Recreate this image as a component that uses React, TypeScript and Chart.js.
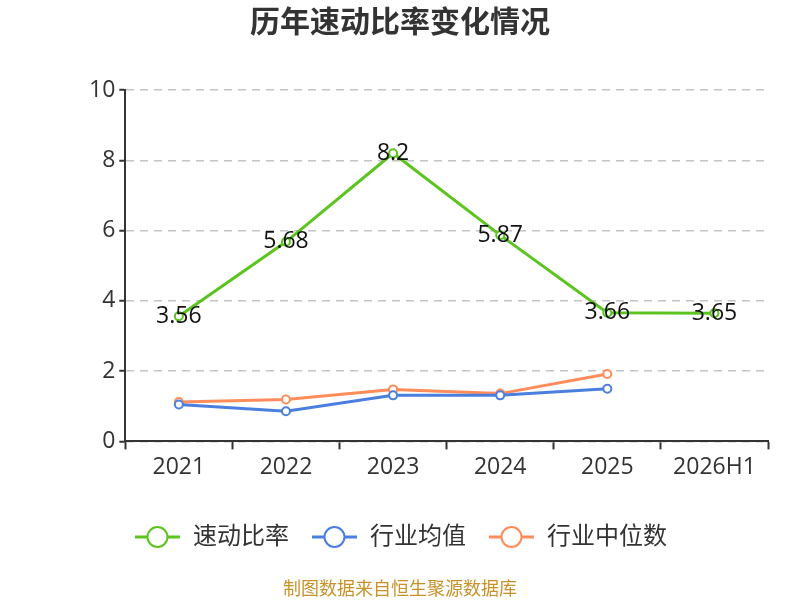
import React, { useEffect, useRef } from 'react';
import { Chart, registerables } from 'chart.js';

Chart.register(...registerables);

const years = ['2021', '2022', '2023', '2024', '2025', '2026H1'];
const quickRatio = [3.56, 5.68, 8.2, 5.87, 3.66, 3.65];
const industryAvg = [1.05, 0.86, 1.31, 1.31, 1.5, null];
const industryMedian = [1.12, 1.19, 1.48, 1.36, 1.92, null];
const quickRatioLabels = ['3.56', '5.68', '8.2', '5.87', '3.66', '3.65'];

const FONT = '"Open Sans", "Noto Sans CJK SC", sans-serif';

const App: React.FC = () => {
  const canvasRef = useRef<HTMLCanvasElement>(null);
  const chartRef = useRef<Chart | null>(null);

  useEffect(() => {
    document.body.style.margin = '0';
    if (!canvasRef.current) return;
    if (chartRef.current) chartRef.current.destroy();
    const ctx = canvasRef.current.getContext('2d');
    if (!ctx) return;

    // title, value labels, legend and footer drawn by hand
    const extras = {
      id: 'extras',
      afterDatasetsDraw(chart: Chart) {
        const c = chart.ctx;
        c.save();
        // value labels on the first series
        const meta = chart.getDatasetMeta(0);
        c.font = `23px ${FONT}`;
        c.fillStyle = '#111';
        c.textAlign = 'center';
        c.textBaseline = 'middle';
        meta.data.forEach((pt: any, i: number) => {
          c.fillText(quickRatioLabels[i], pt.x, pt.y);
        });
        c.restore();
      },
      afterDraw(chart: Chart) {
        const c = chart.ctx;
        c.save();
        c.textBaseline = 'middle';
        c.textAlign = 'center';
        c.fillStyle = '#333';
        c.font = `bold 30px ${FONT}`;
        c.fillText('历年速动比率变化情况', 400, 23);

        // legend
        const starts = [135, 312, 489];
        chart.data.datasets.forEach((ds: any, i: number) => {
          const x = starts[i];
          const y = 537;
          c.strokeStyle = ds.borderColor;
          c.lineWidth = 3;
          c.beginPath();
          c.moveTo(x, y);
          c.lineTo(x + 45, y);
          c.stroke();
          c.beginPath();
          c.arc(x + 22.5, y, 10, 0, Math.PI * 2);
          c.fillStyle = '#fff';
          c.fill();
          c.lineWidth = 2;
          c.stroke();
          c.fillStyle = '#333';
          c.textAlign = 'left';
          c.font = `24px ${FONT}`;
          c.fillText(ds.label, x + 58, y);
        });

        c.textAlign = 'center';
        c.fillStyle = '#c8922a';
        c.font = `18px ${FONT}`;
        c.fillText('制图数据来自恒生聚源数据库', 400, 590);
        c.restore();
      },
    };

    chartRef.current = new Chart(ctx, {
      type: 'line',
      data: {
        labels: years,
        datasets: [
          {
            label: '速动比率',
            data: quickRatio,
            borderColor: '#5cc41f',
            backgroundColor: '#fff',
          },
          {
            label: '行业均值',
            data: industryAvg,
            borderColor: '#4a7fe0',
            backgroundColor: '#fff',
          },
          {
            label: '行业中位数',
            data: industryMedian,
            borderColor: '#ff8c5a',
            backgroundColor: '#fff',
          },
        ],
      },
      options: {
        responsive: false,
        animation: false,
        layout: { padding: { top: 90, left: 85, right: 32, bottom: 115 } },
        elements: {
          line: { borderWidth: 3, tension: 0 },
          point: { radius: 4, borderWidth: 2, hoverRadius: 4 },
        },
        plugins: {
          legend: { display: false },
          title: { display: false },
          tooltip: { enabled: false },
        },
        scales: {
          x: {
            offset: true,
            grid: {
              offset: true,
              drawOnChartArea: false,
              tickLength: 8,
              tickColor: '#333',
              tickWidth: 2,
            },
            border: { color: '#333', width: 2 },
            ticks: { color: '#333', font: { size: 23, family: FONT }, padding: 4 },
          },
          y: {
            min: 0,
            max: 10,
            ticks: { stepSize: 2, color: '#333', font: { size: 23, family: FONT }, padding: 4 },
            grid: {
              color: '#c4c4c4',
              lineWidth: 1.5,
              tickColor: '#333',
              tickLength: 6,
              tickWidth: 2,
              tickBorderDash: [],
            },
            border: { color: '#333', width: 2, dash: [8, 6] },
          },
        },
      },
      plugins: [extras],
    });

    return () => {
      if (chartRef.current) {
        chartRef.current.destroy();
        chartRef.current = null;
      }
    };
  }, []);

  return (
    <div style={{ width: 800, height: 600 }}>
      <canvas ref={canvasRef} width={800} height={600} style={{ width: 800, height: 600 }} />
    </div>
  );
};

export default App;
